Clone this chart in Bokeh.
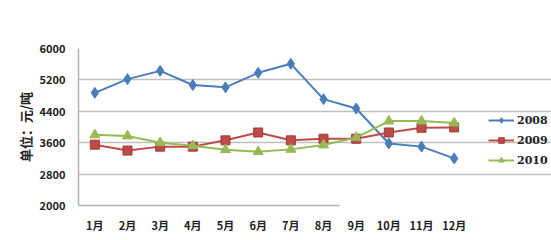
from bokeh.plotting import figure
from bokeh.models import Legend, LegendItem, FixedTicker, Range1d
from bokeh.embed import file_html
from bokeh.resources import INLINE

months = ["1月", "2月", "3月", "4月", "5月", "6月", "7月", "8月", "9月", "10月", "11月", "12月"]
s2008 = [4870, 5220, 5430, 5070, 5010, 5380, 5610, 4710, 4470, 3580, 3500, 3200]
s2009 = [3550, 3400, 3500, 3500, 3660, 3860, 3660, 3700, 3700, 3860, 3980, 3990]
s2010 = [3800, 3770, 3600, 3520, 3420, 3370, 3430, 3540, 3730, 4150, 4150, 4100]
yticks = [2000, 2800, 3600, 4400, 5200, 6000]

FONT = "Noto Sans CJK SC"
xs = list(range(len(months)))
n = len(months)

p = figure(x_range=Range1d(-0.5, -0.5 + n * 473 / 392), y_range=Range1d(2000, 6000),
           frame_width=473, frame_height=157, output_backend="svg",
           toolbar_location=None, min_border_left=78, min_border_top=48,
           min_border_bottom=35, min_border_right=0)
p.outline_line_color = None
p.background_fill_color = "white"

p.xgrid.grid_line_color = None
p.ygrid.grid_line_color = "#c0c0c0"
p.ygrid.grid_line_width = 1.5
p.ygrid.bounds = (-0.5, n - 0.5)
p.yaxis.ticker = FixedTicker(ticks=yticks)
p.xaxis.ticker = FixedTicker(ticks=xs)
p.xaxis.major_label_overrides = {i: m for i, m in zip(xs, months)}
p.xaxis.bounds = (-0.5, 7.5)

for ax in (p.xaxis[0], p.yaxis[0]):
    ax.major_tick_line_color = None
    ax.minor_tick_line_color = None
    ax.axis_line_color = "#b0b0b0"
    ax.axis_line_width = 1.5
    ax.major_label_text_font = FONT
    ax.major_label_text_font_style = "bold"
    ax.major_label_text_font_size = "11px"
    ax.major_label_text_color = "#222222"
p.xaxis.major_label_standoff = 5
p.yaxis.major_label_standoff = 7
p.yaxis.axis_label = "单位：元/吨"
p.yaxis.axis_label_text_font = FONT
p.yaxis.axis_label_text_font_style = "bold"
p.yaxis.axis_label_text_font_size = "13px"
p.yaxis.axis_label_text_color = "#222222"
p.yaxis.axis_label_standoff = 2

c1, c2, c3 = "#4a7ebb", "#be4b48", "#98b954"
l1 = p.line(xs, s2008, line_color=c1, line_width=2)
m1 = p.scatter(xs, s2008, marker="diamond", size=11, fill_color=c1, line_color=c1)
l2 = p.line(xs, s2009, line_color=c2, line_width=2)
m2 = p.scatter(xs, s2009, marker="square", size=9, fill_color=c2, line_color="#a03a38")
l3 = p.line(xs, s2010, line_color=c3, line_width=2)
m3 = p.scatter(xs, s2010, marker="triangle", size=10, fill_color=c3, line_color=c3)

legend = Legend(items=[LegendItem(label="2008", renderers=[l1, m1]),
                       LegendItem(label="2009", renderers=[l2, m2]),
                       LegendItem(label="2010", renderers=[l3, m3])],
                location=(410, 38), border_line_color=None, background_fill_alpha=0,
                label_text_font="DejaVu Serif", label_text_font_style="bold",
                label_text_font_size="11px", label_text_color="#222222",
                glyph_width=26, glyph_height=14, spacing=6, padding=2, margin=0,
                label_standoff=3)
p.add_layout(legend)

open("out.html", "w").write(file_html(p, INLINE))
